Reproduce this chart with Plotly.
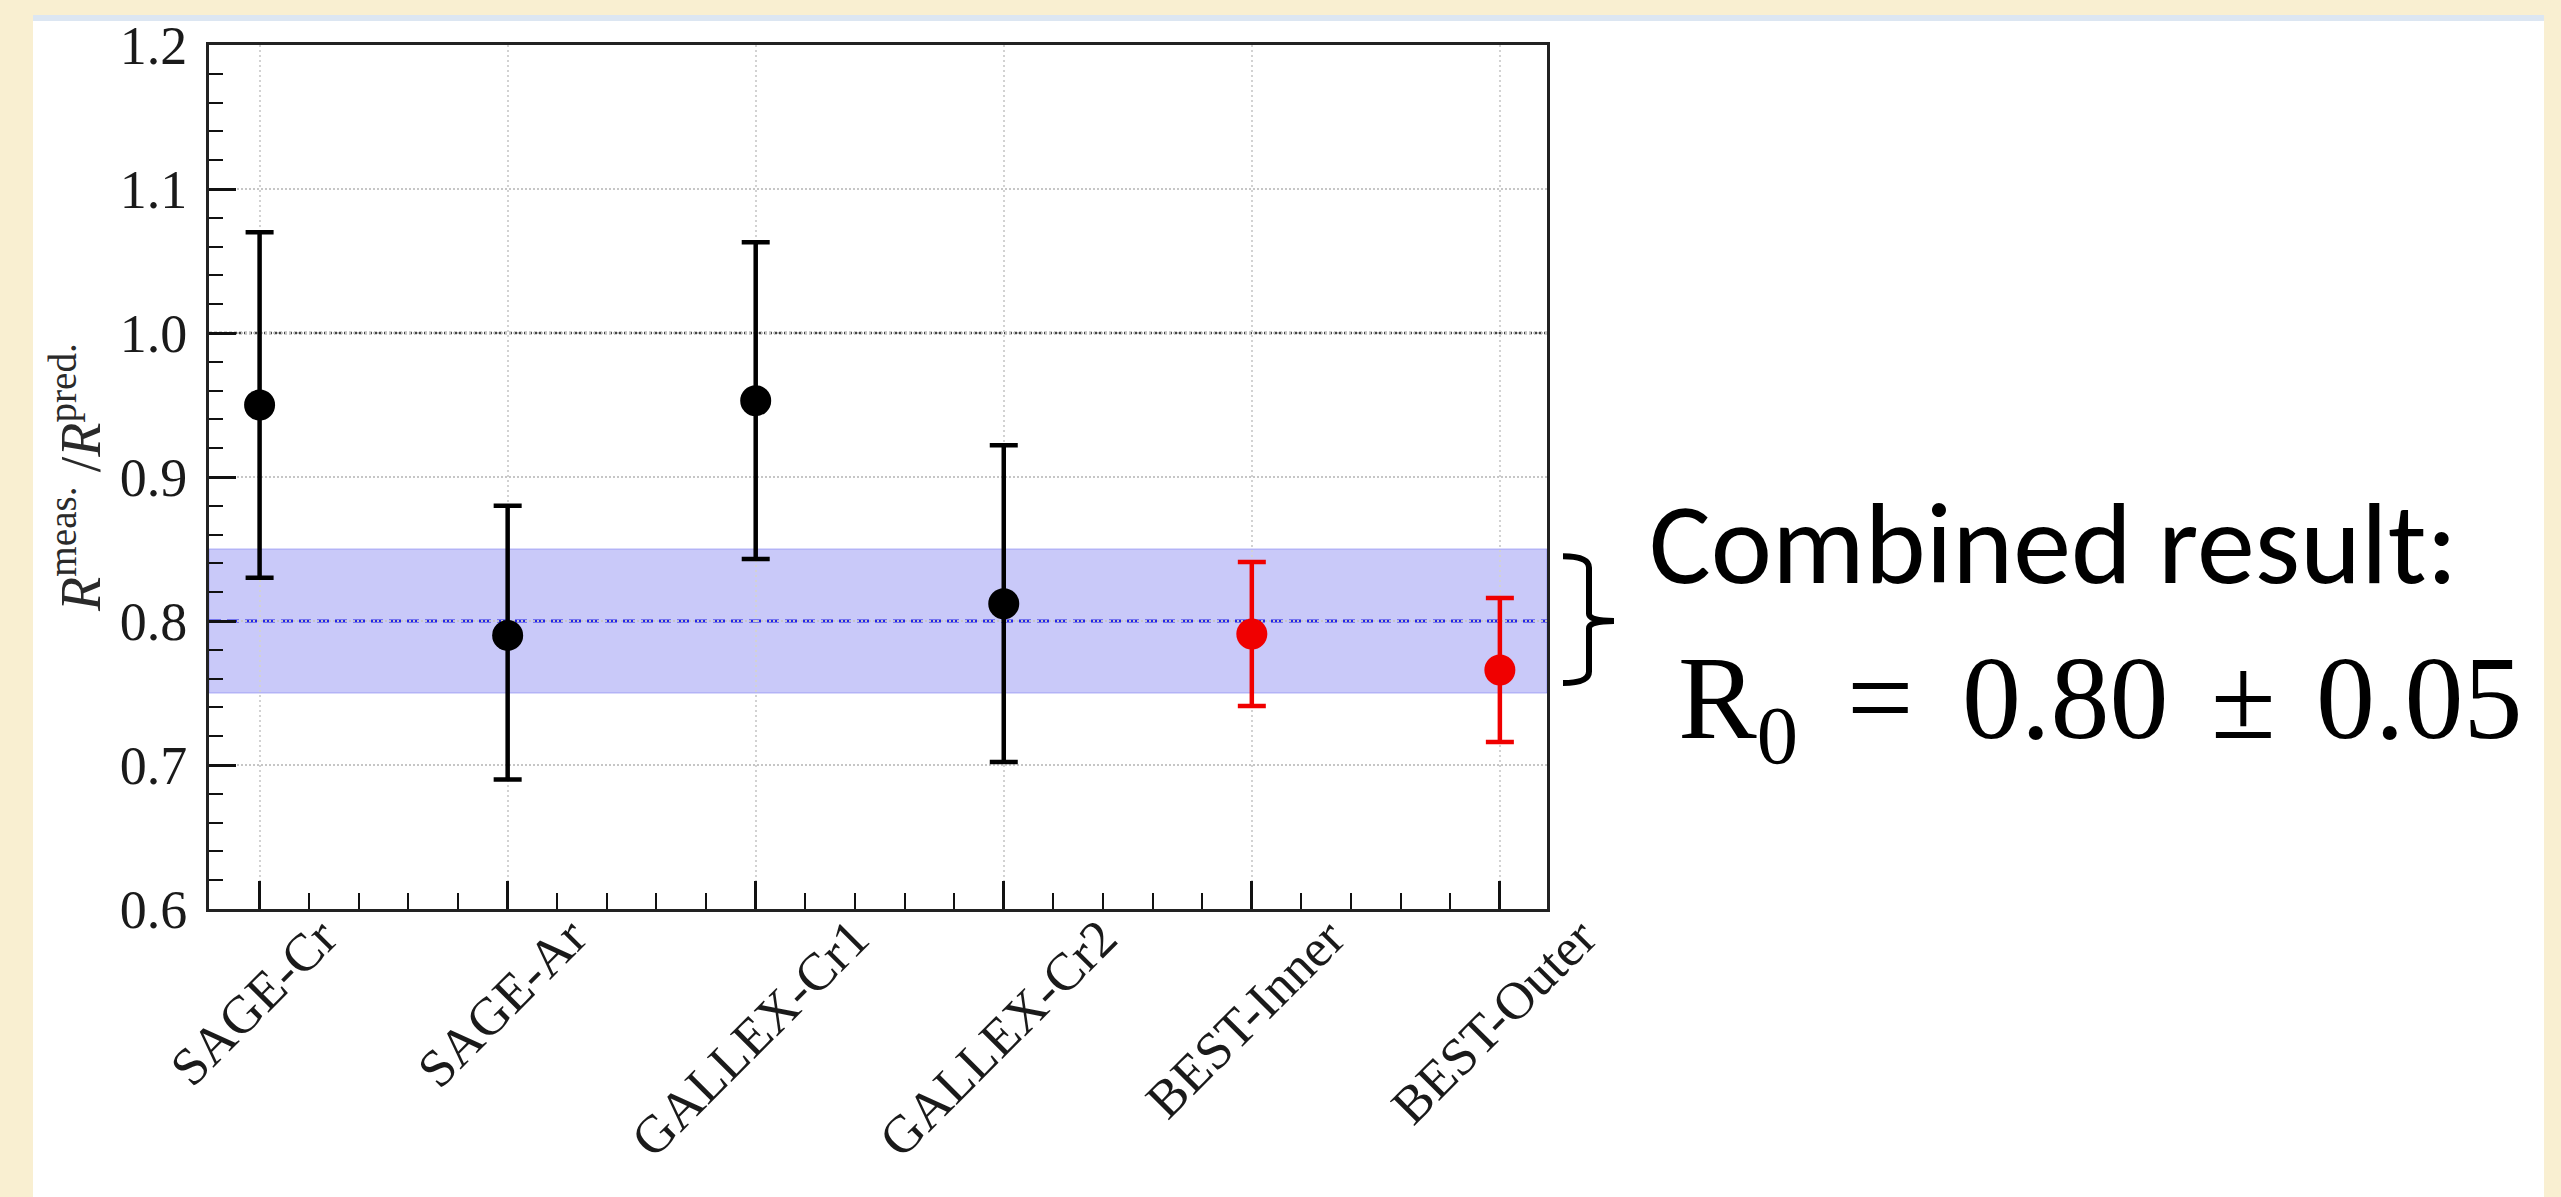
import plotly.graph_objects as go

# ---- data -------------------------------------------------------------
experiments = ["SAGE-Cr", "SAGE-Ar", "GALLEX-Cr1", "GALLEX-Cr2", "BEST-Inner", "BEST-Outer"]
ratio = [0.95, 0.79, 0.953, 0.812, 0.791, 0.766]
err_up = [0.12, 0.09, 0.11, 0.11, 0.05, 0.05]
err_down = [0.12, 0.10, 0.11, 0.11, 0.05, 0.05]
is_best = [False, False, False, False, True, True]

combined_r0 = 0.80
combined_err = 0.05
reference_ratio = 1.0

y_ticks = [0.6, 0.7, 0.8, 0.9, 1.0, 1.1, 1.2]

# ---- page geometry (pixels) ------------------------------------------
W, H = 2561, 1197
ML, MR, MT, MB = 209, 1014, 45, 288
PW, PH = W - ML - MR, H - MT - MB
X_RANGE = [-0.204, 5.19]
Y_RANGE = [0.6, 1.2]


def px_x(p):
    return (p - ML) / PW


def px_y(p):
    return (H - MB - p) / PH


SERIF = "Liberation Serif, Times New Roman, serif"
BLACK = "#000000"
RED = "#F00000"

fig = go.Figure()


def add_group(mask, color):
    xs = [i for i, m in enumerate(mask) if m]
    fig.add_trace(go.Scatter(
        x=xs,
        y=[ratio[i] for i in xs],
        mode="markers",
        marker=dict(symbol="circle", size=31, color=color, line=dict(width=0)),
        error_y=dict(type="data", symmetric=False,
                     array=[err_up[i] for i in xs],
                     arrayminus=[err_down[i] for i in xs],
                     color=color, thickness=4.5, width=14),
        showlegend=False,
        hoverinfo="skip",
    ))


add_group([not b for b in is_best], BLACK)
add_group(is_best, RED)

shapes = [
    # slide panel and its top strip
    dict(type="rect", xref="paper", yref="paper", layer="below",
         x0=px_x(33), x1=px_x(2544), y0=px_y(1200), y1=px_y(21),
         fillcolor="#FFFFFF", line=dict(width=0)),
    dict(type="rect", xref="paper", yref="paper", layer="below",
         x0=px_x(33), x1=px_x(2544), y0=px_y(21), y1=px_y(15),
         fillcolor="#DCE6F2", line=dict(width=0)),
    # combined-result band
    dict(type="rect", xref="x", yref="y", layer="below",
         x0=X_RANGE[0], x1=X_RANGE[1],
         y0=combined_r0 - combined_err, y1=combined_r0 + combined_err,
         fillcolor="rgba(60,60,235,0.28)",
         line=dict(width=1, color="rgba(120,120,240,0.55)")),
    # expected ratio of one
    dict(type="line", xref="x", yref="y", layer="below",
         x0=X_RANGE[0], x1=X_RANGE[1], y0=reference_ratio, y1=reference_ratio,
         line=dict(color="#444444", width=2.5, dash="3px,2px")),
    # combined central value
    dict(type="line", xref="x", yref="y", layer="below",
         x0=X_RANGE[0], x1=X_RANGE[1], y0=combined_r0, y1=combined_r0,
         line=dict(color="#2323E6", width=3, dash="12px,6px")),
]

# curly brace next to the band
bx0, bx1, bx2 = px_x(1563), px_x(1589), px_x(1614)
yt = combined_r0 + 0.9 * combined_err
yb = combined_r0 - 0.86 * combined_err
ym = combined_r0
c, c2 = 0.008, 0.005
brace = (f"M {bx0},{yt} Q {bx1},{yt} {bx1},{yt - c} "
         f"L {bx1},{ym + c2} Q {bx1},{ym} {bx2},{ym} "
         f"Q {bx1},{ym} {bx1},{ym - c2} "
         f"L {bx1},{yb + c} Q {bx1},{yb} {bx0},{yb}")
shapes.append(dict(type="path", xref="paper", yref="y", layer="above",
                   path=brace, line=dict(color=BLACK, width=6)))

annotations = []

# category labels, rotated and centred under each category
for i, name in enumerate(experiments):
    annotations.append(dict(text=name, xref="x", yref="paper",
                            x=i, y=px_y(905), xanchor="center", yanchor="top",
                            xshift=-6, textangle=-45, showarrow=False,
                            font=dict(family=SERIF, size=53, color="#1A1A1A")))

annotations.append(dict(text="Combined result:", xref="paper", yref="paper",
                        x=px_x(1647), y=px_y(543), xanchor="left", yanchor="middle",
                        showarrow=False,
                        font=dict(family="Carlito, Lato, sans-serif", size=116, color=BLACK)))

line2_top = px_y(631)
for txt, xpix, anchor in [("R<sub>0</sub>", 1676, "left"),
                          ("=", 1880, "center"),
                          (f"{combined_r0:.2f}", 1960, "left"),
                          ("±", 2243, "center"),
                          (f"{combined_err:.2f}", 2314, "left")]:
    annotations.append(dict(text=txt, xref="paper", yref="paper",
                            x=px_x(xpix), y=line2_top, xanchor=anchor, yanchor="top",
                            showarrow=False,
                            font=dict(family=SERIF, size=118, color=BLACK)))

fig.update_layout(
    width=W, height=H,
    margin=dict(l=ML, r=MR, t=MT, b=MB, pad=0),
    template="none",
    paper_bgcolor="#F9EFD1",
    plot_bgcolor="#FFFFFF",
    shapes=shapes,
    annotations=annotations,
    showlegend=False,
)

fig.update_xaxes(
    range=X_RANGE, tickmode="array", tickvals=list(range(len(experiments))),
    showticklabels=False,
    ticks="inside", ticklen=28, tickwidth=2.5, tickcolor="#111111",
    showline=True, linewidth=3, linecolor="#222222", mirror=True,
    showgrid=True, gridcolor="#D2D2D2", gridwidth=1.5, griddash="2px,3px",
    zeroline=False, automargin=False,
    minor=dict(ticks="inside", ticklen=16, tickwidth=2, tickcolor="#111111",
               tickmode="linear", tick0=0, dtick=0.2, showgrid=False),
)

fig.update_yaxes(
    range=Y_RANGE, tickmode="array", tickvals=y_ticks, tickformat=".1f",
    ticks="inside", ticklen=27, tickwidth=2.5, tickcolor="#111111",
    showline=True, linewidth=3, linecolor="#222222", mirror=True,
    showgrid=True, gridcolor="#C6C6C6", gridwidth=2, griddash="2px,2px",
    zeroline=False, automargin=False,
    tickfont=dict(family=SERIF, size=54, color="#1A1A1A"),
    ticklabelstandoff=8,
    minor=dict(ticks="inside", ticklen=14, tickwidth=2, tickcolor="#111111",
               tickmode="linear", tick0=0.6, dtick=0.02, showgrid=False),
    title=dict(text="<i>R</i><sup>meas.</sup> /<i>R</i><sup>pred.</sup>",
               font=dict(family=SERIF, size=56, color="#2A2A2A"), standoff=2),
)

fig.write_html("out.html")
